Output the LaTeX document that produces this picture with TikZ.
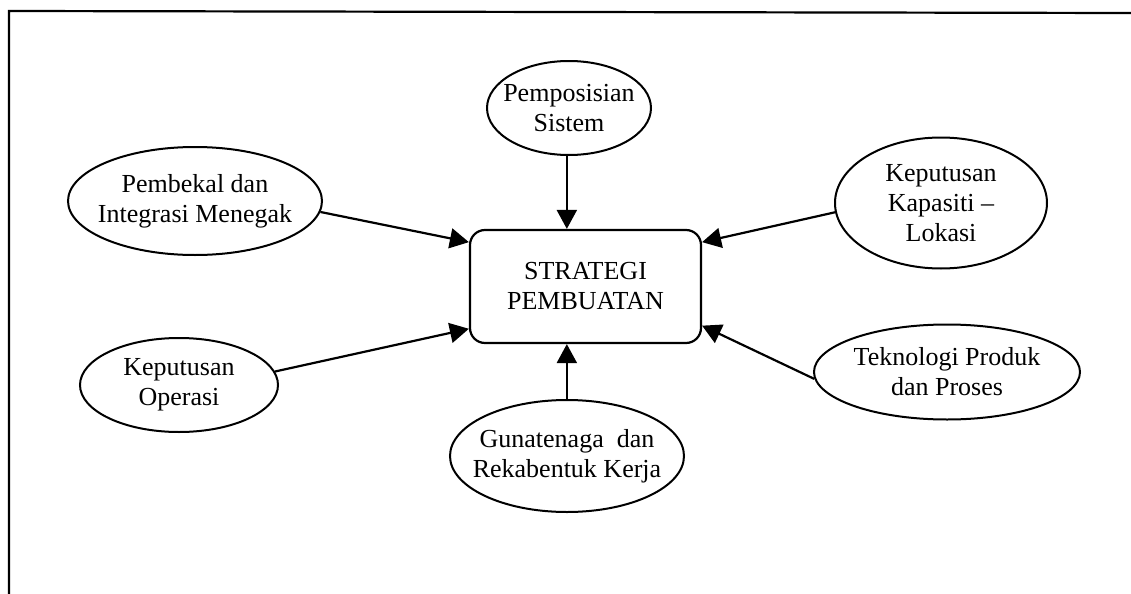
\documentclass[tikz,border=0pt]{standalone}
\usepackage{fontspec}
\setmainfont{Liberation Serif}
\usetikzlibrary{arrows.meta,shapes.geometric,calc}
\begin{document}
\begin{tikzpicture}[x=0.5pt,y=-0.5pt,
  oval/.style={draw,ellipse,line width=1pt,inner sep=-40pt,align=center,font=\fontsize{13}{15}\selectfont},
  mainbox/.style={draw,rounded corners=7.5pt,line width=1.1pt,align=center,inner sep=0pt,minimum width=115.5pt,minimum height=56.5pt,font=\fontsize{13}{15}\selectfont},
  arr/.style={line width=1.1pt,-{Triangle[length=9.5pt,width=10pt]}},
  frameline/.style={line width=1.1pt}]
\useasboundingbox (0,0) rectangle (1131,594);
% frame (top and left edges)
\coordinate (fa) at (9,11);
\coordinate (fb) at (1131,13);
\coordinate (fc) at (9,594);
\draw[frameline] (fb) -- (fa) -- (fc);
% central box
\node[mainbox] (box) at (585.5,286.5) {STRATEGI\\PEMBUATAN};
% surrounding ellipses
\node[oval,minimum width=82pt,minimum height=47pt] (pos) at (569,108) {Pemposisian\\Sistem};
\node[oval,minimum width=127pt,minimum height=54pt] (pemb) at (195,201) {Pembekal dan\\Integrasi Menegak};
\node[oval,minimum width=106pt,minimum height=65.5pt] (kap) at (941,203) {Keputusan\\Kapasiti --\\Lokasi};
\node[oval,minimum width=133pt,minimum height=47.5pt] (tek) at (947,372) {Teknologi Produk\\dan Proses};
\node[oval,minimum width=99pt,minimum height=47pt] (ops) at (179,385) {Keputusan\\Operasi};
\node[oval,minimum width=117pt,minimum height=56pt] (gun) at (567,456) {Gunatenaga~ dan\\Rekabentuk Kerja};
% arrow targets on the box border
\coordinate (tpos) at ($(box.north west)!0.42!(box.north east)$);
\coordinate (tgun) at ($(box.south west)!0.42!(box.south east)$);
\coordinate (tpemb) at ($(box.north west)!0.115!(box.south west)$);
\coordinate (tops) at ($(box.north west)!0.867!(box.south west)$);
\coordinate (tkap) at ($(box.north east)!0.115!(box.south east)$);
\coordinate (ttek) at ($(box.north east)!0.84!(box.south east)$);
% connectors
\draw[arr] (pos.south -| tpos) -- (tpos);
\draw[arr] (gun.north -| tgun) -- (tgun);
\draw[arr] (pemb.-5) -- (tpemb);
\draw[arr] (ops.8) -- (tops);
\draw[arr] (kap.185) -- (tkap);
\draw[arr] (tek.183) -- (ttek);
\end{tikzpicture}
\end{document}
